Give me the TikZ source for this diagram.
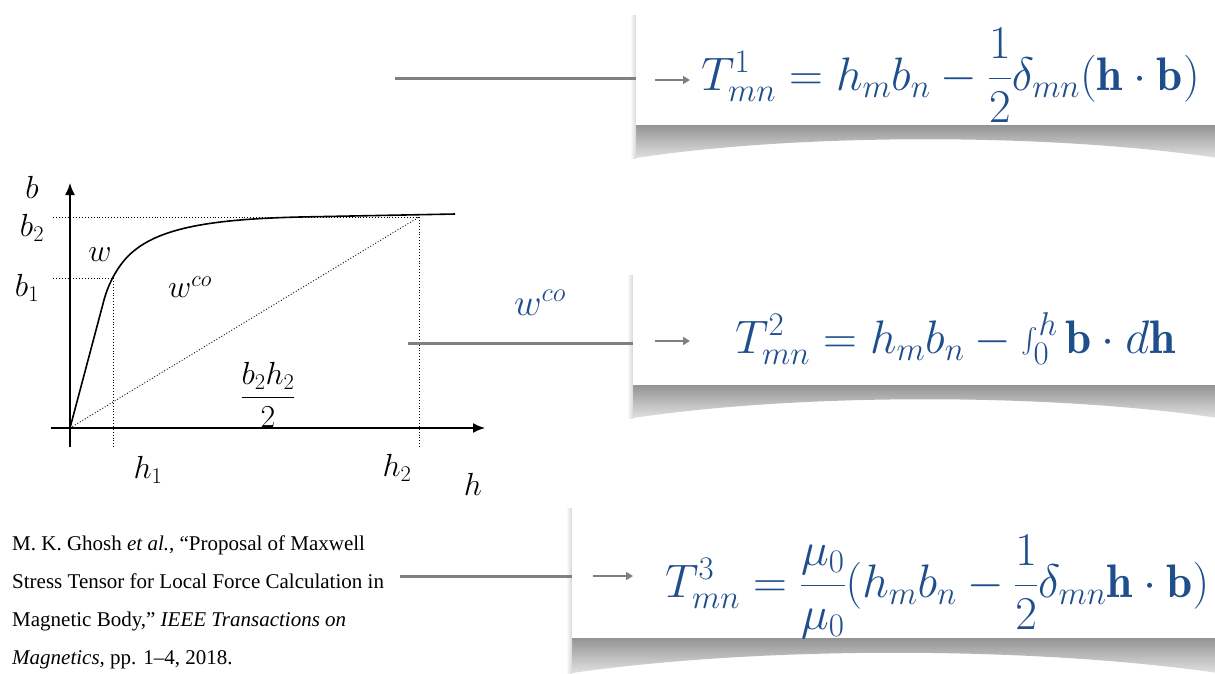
\RequirePackage{fix-cm}
\documentclass[tikz,border=0pt]{standalone}
\usepackage{amsmath}
\usepackage{fontspec}
\newfontfamily\citefont{Liberation Serif}[Ligatures=TeX]
\usepackage{xcolor}
\usetikzlibrary{arrows.meta,positioning,calc}
\definecolor{eqblue}{RGB}{31,78,140}
\definecolor{linkgray}{RGB}{128,128,128}
\tikzset{
  eqbox/.style={fill=white,inner sep=0pt,anchor=north west},
  eqtext/.style={text=eqblue,font=\fontsize{47}{56}\selectfont,
    inner sep=0pt,anchor=base west},
  glabel/.style={font=\fontsize{32}{38}\selectfont,inner sep=0pt},
  axis/.style={-{Latex[length=12pt,width=10pt]},line width=1.6pt},
  guide/.style={dotted,line width=0.9pt},
  bhcurve/.style={line width=1.6pt},
  link/.style={draw=linkgray,line width=3pt},
  pointer/.style={draw=linkgray,line width=2pt,
    -{Triangle[length=7pt,width=8pt]}},
  boxshadow/.style={top color=black!42,bottom color=black!12},
  sideshadow/.style={left color=white,right color=black!16}
}

\begin{document}
\begin{tikzpicture}[x=1pt,y=-1pt]
\useasboundingbox[fill=white] (0,0) rectangle (1215,673);

% shadows under the boxes
\shade[boxshadow] (636,125) -- (1218,125) -- (1218,158)
  .. controls (1050,133) and (800,133) .. (636,158) -- cycle;
\shade[sideshadow] (630,15) rectangle (636,158);
\shade[boxshadow] (633,385) -- (1218,385) -- (1218,418)
  .. controls (1050,393) and (800,393) .. (633,418) -- cycle;
\shade[sideshadow] (627,275) rectangle (633,418);
\shade[boxshadow] (572,638) -- (1218,638) -- (1218,673)
  .. controls (1030,646) and (760,646) .. (572,673) -- cycle;
\shade[sideshadow] (566,508) rectangle (572,673);

% formula boxes
\node[eqbox,minimum width=582pt,minimum height=113pt] (box1) at (636,12) {};
\node[eqbox,minimum width=585pt,minimum height=113pt] (box2) at (633,272) {};
\node[eqbox,minimum width=646pt,minimum height=133pt] (box3) at (572,505) {};

\node[eqtext] (eq1) at (701,90)
  {$T^{1}_{mn}=h_mb_n-\dfrac{1}{2}\delta_{mn}(\mathbf{h}\cdot\mathbf{b})$};
\node[eqtext] (eq2) at (735,353)
  {$T^{2}_{mn}=h_mb_n-\int_0^h\mathbf{b}\cdot d\mathbf{h}$};
\node[eqtext] (eq3) at (665,597)
  {$T^{3}_{mn}=\dfrac{\mu_0}{\mu_0}(h_mb_n-\dfrac{1}{2}\delta_{mn}\mathbf{h}\cdot\mathbf{b})$};

% b-h curve
\draw[axis] (51,428) -- (485,428);
\draw[axis] (70,447) -- (70,183);
\draw[guide] (53,217) -- (419,217);
\draw[guide] (53,278) -- (113,278);
\draw[guide] (113,278) -- (113,447);
\draw[guide] (419,217) -- (419,447);
\draw[guide] (70,428) -- (419,217);
\draw[bhcurve] (70,428) -- (104,300) .. controls (108,285) and (118,263) .. (135,250)
  .. controls (165,226) and (220,219) .. (300,217) -- (455,214);

\node[glabel] (lb) at (32,187) {$b$};
\node[glabel] (lb2) at (32,228) {$b_2$};
\node[glabel] (lb1) at (27,288) {$b_1$};
\node[glabel] (lw) at (100,255) {$w$};
\node[glabel] (lwco) at (190,287) {$w^{co}$};
\node[glabel] (larea) at (268,395) {$\dfrac{b_2h_2}{2}$};
\node[glabel] (lh1) at (148,470) {$h_1$};
\node[glabel] (lh2) at (397,468) {$h_2$};
\node[glabel] (lh) at (473,484) {$h$};

\node[glabel,text=eqblue,font=\fontsize{38}{44}\selectfont] (coen) at (540,303) {$w^{co}$};

% reference
\node[anchor=north west,inner sep=0pt,align=left,
  font=\fontspec{Liberation Serif}\fontsize{21}{38}\selectfont] (cite) at (12,536)
  {M. K. Ghosh \textit{et al.}, “Proposal of Maxwell\\
  Stress Tensor for Local Force Calculation in\\
  Magnetic Body,” \textit{IEEE Transactions on}\\
  \textit{Magnetics}, pp. 1–4, 2018.};

% connectors
\coordinate (from1) at (395,78);
\coordinate (from2) at (408,343);
\coordinate (from3) at (400,576);
\draw[link] (from1) -- (from1 -| box1.west);
\draw[link] (from2) -- (from2 -| box2.west);
\draw[link] (from3) -- (from3 -| box3.west);
\draw[pointer] (655,80) -- ([xshift=-11pt]eq1.west |- 0,80);
\draw[pointer] (655,341) -- ([xshift=-45pt]eq2.west |- 0,341);
\draw[pointer] (593,576) -- ([xshift=-32pt]eq3.west |- 0,576);
\end{tikzpicture}
\end{document}
